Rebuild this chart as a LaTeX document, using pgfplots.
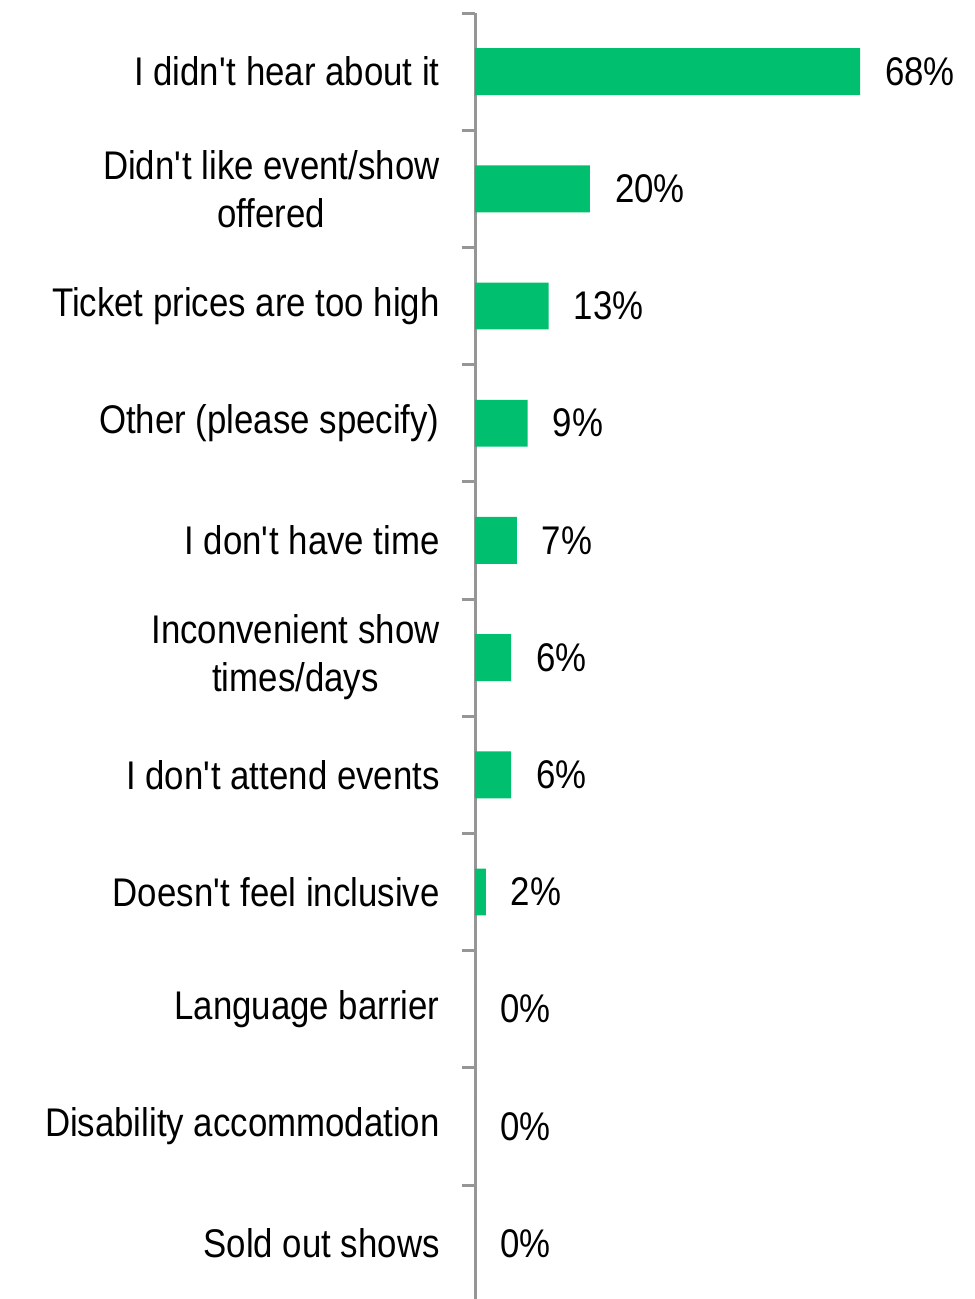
\documentclass[border=0pt]{standalone}
\usepackage{fontspec}
\setmainfont[FakeStretch=0.87]{Liberation Sans}
\usepackage{pgfplots}
\pgfplotsset{compat=1.18}
\definecolor{barg}{HTML}{00BF6F}
\definecolor{axg}{HTML}{969696}
\begin{document}
\begin{tikzpicture}
\path[use as bounding box] (0,0) rectangle (487pt,-649.5pt);
\begin{axis}[
  at={(237.5pt,-6.5pt)}, anchor=north west,
  scale only axis,
  width=226.5pt, height=644.6pt,
  xbar, xmin=0, xmax=80,
  ymin=-0.5, ymax=10.5, y dir=reverse,
  axis x line=none,
  axis y line*=left,
  axis line style={axg, line width=1.5pt},
  ytick={0,...,10},
  yticklabels={I didn\textquotesingle t hear about it,{Didn\textquotesingle t like event/show\\offered},Ticket prices are too high,Other (please specify),I don\textquotesingle t have time,{Inconvenient show\\times/days},I don\textquotesingle t attend events,Doesn\textquotesingle t feel inclusive,Language barrier,Disability accommodation,Sold out shows},
  minor ytick={-0.5,0.5,...,10.5},
  major tick length=0pt,
  minor tick length=6.5pt,
  tick align=outside,
  minor tick style={axg, line width=1.5pt},
  yticklabel style={font=\fontsize{20}{24}\selectfont, align=center, inner sep=0pt, xshift=-17.5pt},
  bar width=0.4,
  bar shift=0pt,
  nodes near coords={\pgfmathprintnumber[fixed,precision=0]{\pgfplotspointmeta}\%},
  nodes near coords style={font=\fontsize{20}{24}\selectfont, anchor=west, xshift=9pt, text=black},
  /pgf/number format/assume math mode=true,
  point meta=explicit,
  clip=false,
]
\addplot[fill=barg, draw=none] coordinates {
(68,0) [68] (20.3,1) [20] (13,2) [13] (9.3,3) [9] (7.4,4) [7] (6.4,5) [6] (6.4,6) [6] (1.9,7) [2] (0,8) [0] (0,9) [0] (0,10) [0]};
\end{axis}
\end{tikzpicture}
\end{document}
